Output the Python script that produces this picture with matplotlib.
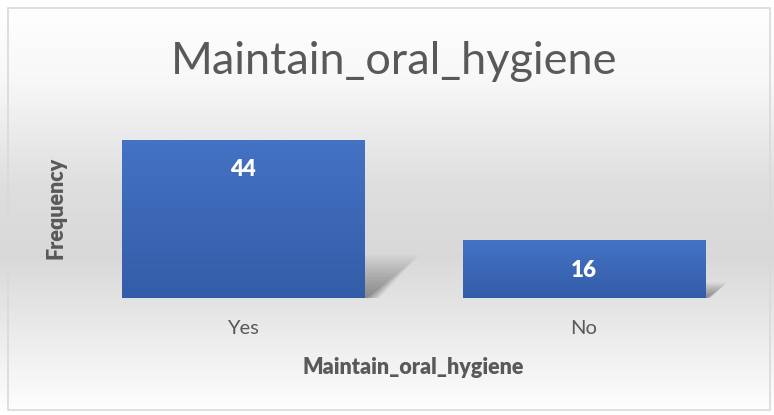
import numpy as np
import matplotlib.pyplot as plt
from matplotlib.patches import Rectangle, Polygon

categories = ["Yes", "No"]
counts = [44, 16]

plt.rcParams["font.family"] = ["Lato", "DejaVu Sans"]

fig = plt.figure(figsize=(7.74, 4.15), dpi=100)

# soft grey band behind the plot, white at top and bottom
bg = fig.add_axes([0, 0, 1, 1], zorder=0)
yy = np.linspace(0, 1, 400)
shade = np.interp(yy, [0, 0.2, 0.45, 0.62, 0.8, 1.0], [1.0, 0.97, 0.87, 0.85, 0.92, 1.0])
bg_img = np.stack([shade, shade, shade], axis=-1)[:, None, :].repeat(2, axis=1)
bg.imshow(bg_img, aspect="auto", extent=[0, 1, 1, 0])
bg.set_xlim(0, 1)
bg.set_ylim(1, 0)
bg.axis("off")
bg.add_patch(Rectangle((8 / 774, 8 / 415), 762 / 774, 402 / 415, fill=False,
                       edgecolor="#d9d9d9", lw=1.2))

ax = fig.add_axes([72.5 / 774, 1 - 298 / 415, 682 / 774, 179.5 / 415], zorder=1)
ax.patch.set_alpha(0)
x = np.arange(len(categories))
width = 0.71

# perspective shadows, scaled to each bar's height
for xi, v in zip(x, counts):
    right = xi + width / 2
    h = 0.27 * v
    dx = 0.15 * v / 44
    n = 14
    for k in range(n):
        s = 1 - k / n
        poly = Polygon([(right - 0.05, 0), (right - 0.05, h * s),
                        (right + dx * s + 0.01, h * s),
                        (right + 0.3 * dx * s, 0)],
                       closed=True, facecolor="black", alpha=0.03, lw=0)
        ax.add_patch(poly)

bars = ax.bar(x, counts, width=width, color="#3a66b5", zorder=3)
# vertical gradient on each bar
top = np.array([0x44, 0x72, 0xc4]) / 255
bot = np.array([0x33, 0x5d, 0xa8]) / 255
t = np.linspace(0, 1, 100)[:, None, None]
bar_img = (top * (1 - t) + bot * t).repeat(2, axis=1)
for b in bars:
    ax.imshow(bar_img, extent=[b.get_x(), b.get_x() + b.get_width(), 0, b.get_height()],
              aspect="auto", zorder=3.5, origin="upper")
ax.set_xlim(-0.5, len(categories) - 0.5)
ax.set_ylim(0, 50)

for b, v in zip(bars, counts):
    ax.text(b.get_x() + b.get_width() / 2, v - 8.3, str(v), ha="center", va="center",
            color="white", fontsize=16, fontweight="heavy", zorder=5)

ax.set_xticks(x)
ax.set_xticklabels(categories, fontsize=14.5, color="#595959")
ax.tick_params(axis="x", length=0, pad=16)
ax.set_yticks([])
for sp in ax.spines.values():
    sp.set_visible(False)

ax.set_xlabel("Maintain_oral_hygiene", fontsize=15.5, fontweight="heavy", color="#595959", labelpad=14)
ax.set_ylabel("Frequency", fontsize=15.5, fontweight="heavy", color="#595959", labelpad=4)

fig.text(394 / 774, 1 - 61 / 415, "Maintain_oral_hygiene", ha="center", va="center",
         fontsize=32.5, color="#595959")

fig.savefig("out.png", dpi=100)
